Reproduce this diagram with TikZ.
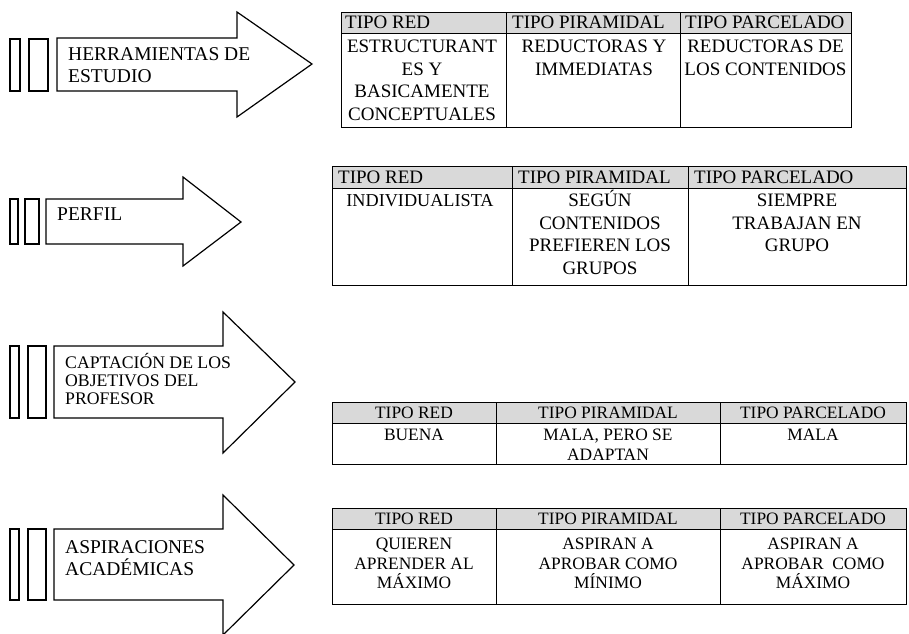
\documentclass[tikz,border=0pt]{standalone}
\usepackage{fontspec}
\setmainfont{Liberation Serif}
\definecolor{headgray}{RGB}{217,217,217}
\begin{document}
\begin{tikzpicture}[x=1pt,y=-1pt,
  arrowline/.style={draw=black,line width=1.2pt,line join=miter},
  tabline/.style={draw=black,line width=1pt},
  headrow/.style={fill=headgray},
  arrowtext/.style={anchor=north west,inner sep=0pt,align=left,
    font=\fontsize{19.5}{22.5}\selectfont},
  smallarrowtext/.style={anchor=north west,inner sep=0pt,align=left,
    font=\fontsize{17.7}{18}\selectfont},
  headbig/.style={anchor=west,inner sep=0pt,font=\fontsize{19}{22}\selectfont},
  headsmall/.style={anchor=center,inner sep=0pt,font=\fontsize{17.4}{20}\selectfont},
  cellbig/.style={anchor=north,inner sep=0pt,align=center,font=\fontsize{19}{22.5}\selectfont},
  cellsmall/.style={anchor=north,inner sep=0pt,align=center,font=\fontsize{17.4}{19.5}\selectfont}
]
\fill[white] (0,0) rectangle (909,633);
\useasboundingbox (0,0) rectangle (909,633);

% ---------- block arrows ----------
% arrow 1
\draw[arrowline] (10,39) rectangle (20,91);
\draw[arrowline] (29,39) rectangle (48,91);
\draw[arrowline] (57,38) -- (237,38) -- (237,12) -- (312,64) -- (237,117) -- (237,91) -- (57,91) -- cycle;
\node[arrowtext] (a1) at (68,47) {HERRAMIENTAS DE\\ESTUDIO};

% arrow 2
\draw[arrowline] (10,199) rectangle (18,244);
\draw[arrowline] (25,199) rectangle (39,244);
\draw[arrowline] (46,199) -- (183,199) -- (183,177) -- (241,222) -- (183,266) -- (183,244) -- (46,244) -- cycle;
\node[arrowtext] (a2) at (57,208) {PERFIL};

% arrow 3
\draw[arrowline] (10,346) rectangle (19,418);
\draw[arrowline] (28,346) rectangle (46,418);
\draw[arrowline] (54,346) -- (223,346) -- (223,312) -- (295,382) -- (223,453) -- (223,418) -- (54,418) -- cycle;
\node[smallarrowtext] (a3) at (65,353) {CAPTACIÓN DE LOS\\OBJETIVOS DEL\\PROFESOR};

% arrow 4
\draw[arrowline] (10,529) rectangle (19,600);
\draw[arrowline] (28,529) rectangle (46,600);
\draw[arrowline] (54,529) -- (223,529) -- (223,495) -- (294,565) -- (223,635) -- (223,600) -- (54,600) -- cycle;
\node[arrowtext] (a4) at (65,540) {ASPIRACIONES\\ACADÉMICAS};

% ---------- table 1 ----------
\fill[headrow] (341,12) rectangle (851,33);
\draw[tabline] (341,12) rectangle (851,127);
\draw[tabline] (341,33) -- (851,33);
\draw[tabline] (506,12) -- (506,127);
\draw[tabline] (680,12) -- (680,127);
\node[headbig] (t1h1) at (345,22.5) {TIPO RED};
\node[headbig] (t1h2) at (512,22.5) {TIPO PIRAMIDAL};
\node[headbig] (t1h3) at (685,22.5) {TIPO PARCELADO};
\node[cellbig] (t1b1) at (422,40) {ESTRUCTURANT\\ES Y\\BASICAMENTE\\CONCEPTUALES};
\node[cellbig] (t1b2) at (594,40) {REDUCTORAS Y\\IMMEDIATAS};
\node[cellbig] (t1b3) at (765.5,40) {REDUCTORAS DE\\LOS CONTENIDOS};

% ---------- table 2 ----------
\fill[headrow] (332,166) rectangle (906,188);
\draw[tabline] (332,166) rectangle (906,285);
\draw[tabline] (332,188) -- (906,188);
\draw[tabline] (512,166) -- (512,285);
\draw[tabline] (688,166) -- (688,285);
\node[headbig] (t2h1) at (338,177) {TIPO RED};
\node[headbig] (t2h2) at (518,177) {TIPO PIRAMIDAL};
\node[headbig] (t2h3) at (694,177) {TIPO PARCELADO};
\node[cellbig] (t2b1) at (420,194) {\fontsize{18.2}{22.5}\selectfont INDIVIDUALISTA};
\node[cellbig] (t2b2) at (600,190) {SEGÚN\\CONTENIDOS\\PREFIEREN LOS\\GRUPOS};
\node[cellbig] (t2b3) at (797,194) {SIEMPRE\\TRABAJAN EN\\GRUPO};

% ---------- table 3 ----------
\fill[headrow] (332,402) rectangle (906,423);
\draw[tabline] (332,402) rectangle (906,464);
\draw[tabline] (332,423) -- (906,423);
\draw[tabline] (496,402) -- (496,464);
\draw[tabline] (720,402) -- (720,464);
\node[headsmall] (t3h1) at (414,412.5) {TIPO RED};
\node[headsmall] (t3h2) at (608,412.5) {TIPO PIRAMIDAL};
\node[headsmall] (t3h3) at (813,412.5) {TIPO PARCELADO};
\node[cellsmall] (t3b1) at (414,429) {BUENA};
\node[cellsmall] (t3b2) at (608,429) {MALA, PERO SE\\ADAPTAN};
\node[cellsmall] (t3b3) at (813,429) {MALA};

% ---------- table 4 ----------
\fill[headrow] (332,508) rectangle (906,529);
\draw[tabline] (332,508) rectangle (906,604);
\draw[tabline] (332,529) -- (906,529);
\draw[tabline] (496,508) -- (496,604);
\draw[tabline] (720,508) -- (720,604);
\node[headsmall] (t4h1) at (414,518.5) {TIPO RED};
\node[headsmall] (t4h2) at (608,518.5) {TIPO PIRAMIDAL};
\node[headsmall] (t4h3) at (813,518.5) {TIPO PARCELADO};
\node[cellsmall] (t4b1) at (414,538) {QUIEREN\\APRENDER AL\\MÁXIMO};
\node[cellsmall] (t4b2) at (608,538) {ASPIRAN A\\APROBAR COMO\\MÍNIMO};
\node[cellsmall] (t4b3) at (813,538) {ASPIRAN A\\APROBAR\ \ COMO\\MÁXIMO};
\end{tikzpicture}
\end{document}
